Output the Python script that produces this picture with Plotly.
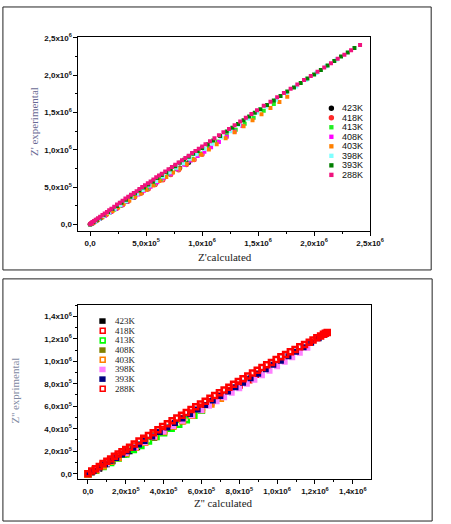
import plotly.graph_objects as go

W, H = 451, 524

# legend order (temperatures)
temps = ["423K", "418K", "413K", "408K", "403K", "398K", "393K", "288K"]

# ---- top panel: Z' calculated vs Z' experimental (values in 1e6 ohm) ----
top_calc_423 = [0.00, 0.02, 0.05, 0.09, 0.13, 0.18, 0.23, 0.28, 0.33, 0.39, 0.45, 0.51, 0.58, 0.65, 0.72, 0.80, 0.88]
top_exp_423 = [0.00, 0.015, 0.045, 0.08, 0.12, 0.165, 0.21, 0.26, 0.305, 0.36, 0.42, 0.475, 0.54, 0.61, 0.675, 0.755, 0.83]

top_calc_418 = [0.00, 0.01, 0.03, 0.06, 0.10, 0.14, 0.19, 0.24, 0.29, 0.34, 0.40, 0.46, 0.52, 0.58, 0.65, 0.72, 0.79, 0.86, 0.93, 1.00]
top_exp_418 = [0.005, 0.01, 0.025, 0.05, 0.09, 0.125, 0.17, 0.215, 0.26, 0.31, 0.365, 0.42, 0.475, 0.53, 0.595, 0.665, 0.73, 0.80, 0.865, 0.935]

top_calc_413 = [0.00, 0.05, 0.10, 0.15, 0.21, 0.27, 0.33, 0.39, 0.45, 0.51, 0.57, 0.63, 0.70, 0.77, 0.84, 0.91, 0.98, 1.06, 1.14, 1.22, 1.30, 1.38, 1.46, 1.55, 1.64]
top_exp_413 = [0.00, 0.045, 0.095, 0.14, 0.195, 0.255, 0.31, 0.37, 0.43, 0.485, 0.545, 0.605, 0.67, 0.74, 0.81, 0.88, 0.95, 1.03, 1.11, 1.19, 1.27, 1.35, 1.43, 1.525, 1.615]

top_calc_408 = [0.00, 0.04, 0.08, 0.13, 0.18, 0.23, 0.28, 0.33, 0.38, 0.43, 0.48, 0.54, 0.60, 0.66, 0.72, 0.78, 0.84, 0.90, 0.96, 1.02, 1.08, 1.15, 1.22, 1.29, 1.36]
top_exp_408 = [0.00, 0.035, 0.07, 0.115, 0.165, 0.21, 0.26, 0.305, 0.355, 0.40, 0.45, 0.505, 0.565, 0.625, 0.68, 0.74, 0.80, 0.855, 0.915, 0.975, 1.035, 1.105, 1.175, 1.245, 1.32]

top_calc_403 = [0.00, 0.03, 0.07, 0.11, 0.15, 0.20, 0.25, 0.30, 0.35, 0.40, 0.45, 0.50, 0.56, 0.62, 0.68, 0.74, 0.80, 0.86, 0.92, 0.99, 1.06, 1.13, 1.21, 1.29, 1.37, 1.45, 1.53, 1.61, 1.69, 1.76]
top_exp_403 = [0.00, 0.025, 0.06, 0.095, 0.135, 0.18, 0.225, 0.275, 0.32, 0.37, 0.415, 0.465, 0.52, 0.58, 0.635, 0.695, 0.75, 0.81, 0.865, 0.935, 1.005, 1.075, 1.155, 1.235, 1.315, 1.395, 1.475, 1.56, 1.64, 1.71]

top_calc_398 = [0.00, 0.04, 0.08, 0.12, 0.17, 0.22, 0.27, 0.32, 0.37, 0.42, 0.47, 0.53, 0.59, 0.65, 0.71, 0.77, 0.83, 0.89, 0.95, 1.02, 1.09, 1.17, 1.25, 1.33, 1.41, 1.49, 1.57, 1.66, 1.75, 1.84, 1.93, 2.02, 2.11, 2.20]
top_exp_398 = [0.00, 0.035, 0.075, 0.115, 0.16, 0.21, 0.26, 0.31, 0.36, 0.41, 0.46, 0.52, 0.58, 0.64, 0.70, 0.76, 0.82, 0.88, 0.94, 1.01, 1.08, 1.165, 1.25, 1.335, 1.415, 1.50, 1.58, 1.67, 1.76, 1.85, 1.94, 2.03, 2.12, 2.21]

top_calc_393 = [0.00, 0.03, 0.06, 0.09, 0.12, 0.16, 0.20, 0.24, 0.28, 0.32, 0.36, 0.40, 0.44, 0.48, 0.52, 0.56, 0.60, 0.64, 0.68, 0.72,
                0.76, 0.80, 0.84, 0.88, 0.92, 0.96, 1.00, 1.05, 1.10, 1.16, 1.22, 1.27, 1.32, 1.37, 1.42, 1.47, 1.52, 1.58, 1.64, 1.70,
                1.76, 1.82, 1.88, 1.94, 2.00, 2.06, 2.12, 2.18, 2.24, 2.30, 2.36]
top_exp_393 = [0.00, 0.03, 0.06, 0.09, 0.125, 0.165, 0.205, 0.245, 0.29, 0.33, 0.37, 0.415, 0.455, 0.495, 0.535, 0.575, 0.62, 0.66, 0.70, 0.74,
               0.78, 0.825, 0.865, 0.905, 0.945, 0.985, 1.025, 1.075, 1.125, 1.185, 1.245, 1.295, 1.345, 1.395, 1.445, 1.495, 1.545, 1.60, 1.66, 1.72,
               1.78, 1.835, 1.895, 1.955, 2.01, 2.07, 2.13, 2.19, 2.25, 2.305, 2.365]

top_calc_288 = [0.00, 0.01, 0.02, 0.035, 0.05, 0.07, 0.09, 0.11, 0.13, 0.15, 0.17, 0.19, 0.215, 0.24, 0.265, 0.29, 0.315, 0.34, 0.365, 0.39,
                0.415, 0.44, 0.465, 0.49, 0.515, 0.54, 0.565, 0.59, 0.615, 0.64, 0.67, 0.70, 0.73, 0.76, 0.79, 0.82, 0.85, 0.88, 0.91, 0.94,
                0.97, 1.00, 1.03, 1.07, 1.11, 1.15, 1.19, 1.24, 1.29, 1.34, 1.39, 1.44, 1.49, 1.55, 1.61, 1.67, 1.73, 1.79, 1.85, 1.91,
                1.97, 2.03, 2.09, 2.15, 2.21, 2.27, 2.33, 2.41]
top_exp_288 = [0.005, 0.015, 0.03, 0.045, 0.06, 0.08, 0.10, 0.125, 0.145, 0.165, 0.19, 0.21, 0.235, 0.265, 0.29, 0.315, 0.345, 0.37, 0.395, 0.42,
               0.445, 0.475, 0.50, 0.525, 0.55, 0.575, 0.60, 0.63, 0.655, 0.68, 0.71, 0.74, 0.77, 0.80, 0.83, 0.86, 0.89, 0.92, 0.955, 0.985,
               1.015, 1.045, 1.075, 1.115, 1.155, 1.195, 1.235, 1.28, 1.33, 1.38, 1.43, 1.48, 1.53, 1.59, 1.645, 1.705, 1.76, 1.82, 1.875, 1.935,
               1.99, 2.045, 2.105, 2.16, 2.22, 2.275, 2.335, 2.405]

# ---- bottom panel: Z'' calculated vs Z'' experimental (values in 1e6 ohm) ----
bot_calc_423 = [0.00, 0.02, 0.04, 0.06, 0.08, 0.10, 0.13, 0.16, 0.19, 0.22, 0.26, 0.30, 0.35, 0.40]
bot_exp_423 = [0.00, 0.01, 0.03, 0.045, 0.065, 0.085, 0.11, 0.14, 0.17, 0.20, 0.235, 0.275, 0.32, 0.37]

bot_calc_418 = [0.00, 0.04, 0.08, 0.12, 0.16, 0.20, 0.25, 0.30, 0.35, 0.40, 0.45, 0.50, 0.55, 0.60, 0.65, 0.70, 0.75, 0.80, 0.85, 0.90]
bot_exp_418 = [0.00, 0.035, 0.075, 0.115, 0.155, 0.195, 0.245, 0.295, 0.345, 0.39, 0.44, 0.49, 0.54, 0.59, 0.64, 0.69, 0.74, 0.79, 0.835, 0.885]

bot_calc_413 = [0.00, 0.04, 0.08, 0.12, 0.16, 0.20, 0.24, 0.28, 0.32, 0.36, 0.40, 0.44, 0.48, 0.52, 0.56, 0.60]
bot_exp_413 = [0.00, 0.03, 0.065, 0.10, 0.14, 0.175, 0.215, 0.25, 0.29, 0.33, 0.365, 0.405, 0.44, 0.48, 0.52, 0.565]

bot_calc_408 = [0.00, 0.04, 0.08, 0.12, 0.16, 0.20, 0.25, 0.30, 0.35, 0.40, 0.45, 0.50]
bot_exp_408 = [0.00, 0.035, 0.07, 0.105, 0.145, 0.18, 0.23, 0.275, 0.325, 0.37, 0.42, 0.465]

bot_calc_403 = [0.00, 0.04, 0.08, 0.12, 0.16, 0.20, 0.25, 0.30, 0.35, 0.40, 0.45, 0.50, 0.55, 0.60, 0.65, 0.70]
bot_exp_403 = [0.00, 0.035, 0.07, 0.11, 0.145, 0.185, 0.235, 0.28, 0.33, 0.375, 0.425, 0.47, 0.52, 0.57, 0.62, 0.67]

bot_calc_398 = [0.00, 0.05, 0.10, 0.15, 0.20, 0.25, 0.30, 0.35, 0.40, 0.45, 0.50, 0.55, 0.60, 0.64, 0.68, 0.72, 0.76, 0.80, 0.84, 0.88,
                0.92, 0.96, 1.00, 1.04, 1.08, 1.12, 1.16]
bot_exp_398 = [0.00, 0.045, 0.09, 0.14, 0.185, 0.235, 0.28, 0.33, 0.375, 0.425, 0.47, 0.52, 0.565, 0.605, 0.645, 0.68, 0.72, 0.76, 0.80, 0.835,
               0.875, 0.915, 0.955, 0.995, 1.035, 1.075, 1.12]

bot_calc_393 = [0.00, 0.03, 0.06, 0.09, 0.12, 0.15, 0.18, 0.21, 0.24, 0.27, 0.30, 0.34, 0.38, 0.42, 0.46, 0.50, 0.54, 0.58, 0.62, 0.66,
                0.70, 0.74, 0.78, 0.82, 0.86, 0.90, 0.94, 0.98, 1.02, 1.06, 1.10, 1.14, 1.18, 1.22, 1.25]
bot_exp_393 = [0.00, 0.025, 0.055, 0.085, 0.115, 0.14, 0.17, 0.20, 0.23, 0.26, 0.29, 0.33, 0.37, 0.41, 0.45, 0.49, 0.53, 0.57, 0.61, 0.65,
               0.69, 0.73, 0.77, 0.81, 0.85, 0.89, 0.93, 0.97, 1.005, 1.045, 1.085, 1.125, 1.165, 1.205, 1.235]

bot_calc_288 = [0.00, 0.02, 0.04, 0.06, 0.08, 0.10, 0.12, 0.14, 0.16, 0.18, 0.20, 0.22, 0.245, 0.27, 0.295, 0.32, 0.345, 0.37, 0.395, 0.42,
                0.445, 0.47, 0.495, 0.52, 0.545, 0.57, 0.595, 0.62, 0.645, 0.67, 0.695, 0.72, 0.745, 0.77, 0.795, 0.82, 0.845, 0.87, 0.895, 0.92,
                0.945, 0.97, 0.995, 1.02, 1.045, 1.07, 1.095, 1.12, 1.145, 1.17, 1.19, 1.21, 1.23, 1.245, 1.255, 1.265]
bot_exp_288 = [0.00, 0.025, 0.045, 0.065, 0.09, 0.11, 0.13, 0.155, 0.175, 0.195, 0.215, 0.235, 0.265, 0.29, 0.315, 0.34, 0.365, 0.39, 0.42, 0.445,
               0.47, 0.495, 0.52, 0.545, 0.57, 0.595, 0.62, 0.645, 0.67, 0.695, 0.72, 0.745, 0.77, 0.795, 0.82, 0.845, 0.87, 0.895, 0.92, 0.945,
               0.97, 0.99, 1.015, 1.04, 1.06, 1.085, 1.105, 1.13, 1.15, 1.17, 1.19, 1.21, 1.225, 1.24, 1.25, 1.255]

# tick labels
top_ticks = [0, 0.5e6, 1.0e6, 1.5e6, 2.0e6, 2.5e6]
top_ticktext = ["0,0", "5,0x10<sup>5</sup>", "1,0x10<sup>6</sup>", "1,5x10<sup>6</sup>", "2,0x10<sup>6</sup>", "2,5x10<sup>6</sup>"]
bot_ticks = [0, 0.2e6, 0.4e6, 0.6e6, 0.8e6, 1.0e6, 1.2e6, 1.4e6]
bot_ticktext = ["0,0", "2,0x10<sup>5</sup>", "4,0x10<sup>5</sup>", "6,0x10<sup>5</sup>", "8,0x10<sup>5</sup>",
                "1,0x10<sup>6</sup>", "1,2x10<sup>6</sup>", "1,4x10<sup>6</sup>"]

top_data = [(top_calc_423, top_exp_423), (top_calc_418, top_exp_418), (top_calc_413, top_exp_413),
            (top_calc_408, top_exp_408), (top_calc_403, top_exp_403), (top_calc_398, top_exp_398),
            (top_calc_393, top_exp_393), (top_calc_288, top_exp_288)]
bot_data = [(bot_calc_423, bot_exp_423), (bot_calc_418, bot_exp_418), (bot_calc_413, bot_exp_413),
            (bot_calc_408, bot_exp_408), (bot_calc_403, bot_exp_403), (bot_calc_398, bot_exp_398),
            (bot_calc_393, bot_exp_393), (bot_calc_288, bot_exp_288)]

# styles
top_colors = ["#000000", "#ff2a2a", "#22ee22", "#ff00ff", "#ff8000", "#80ffff", "#007f00", "#f0137e"]
top_symbols = ["circle", "circle", "square", "square", "square", "square", "square", "square"]
bot_colors = ["#000000", "#ff0000", "#00ff00", "#808000", "#ff8000", "#ff80ff", "#000080", "#ff0000"]
bot_open = [False, True, True, False, True, False, False, True]


def px(x):
    return x / W


def py(y):
    return 1 - y / H


fig = go.Figure()

for name, (xs, ys), color, sym in zip(temps, top_data, top_colors, top_symbols):
    marker = dict(color=color, symbol=sym, size=5 if sym == "circle" else 4, line=dict(width=0))
    if sym == "circle":
        marker["gradient"] = dict(type="radial", color="#bbbbbb" if color == "#000000" else "#ffaaaa")
    fig.add_trace(go.Scatter(x=[v * 1e6 for v in xs], y=[v * 1e6 for v in ys], mode="markers",
                             name=name, marker=marker, xaxis="x", yaxis="y", showlegend=False))

for name, (xs, ys), color, is_open in zip(temps, bot_data, bot_colors, bot_open):
    if is_open:
        marker = dict(color=color, symbol="square-open", size=5, line=dict(width=2.5, color=color))
    else:
        marker = dict(color=color, symbol="square", size=6, line=dict(width=0))
    fig.add_trace(go.Scatter(x=[v * 1e6 for v in xs], y=[v * 1e6 for v in ys], mode="markers",
                             name=name, marker=marker, xaxis="x2", yaxis="y2", showlegend=False))

tickfont = dict(family="Liberation Sans, Arial", size=8, color="#111111", weight="bold")
axis_common = dict(showline=True, linecolor="black", linewidth=1, mirror=True, ticks="outside",
                   ticklen=4, tickwidth=1, tickcolor="black", showgrid=False, zeroline=False,
                   tickfont=tickfont, tickmode="array")

fig.update_layout(
    width=W, height=H,
    margin=dict(l=0, r=0, t=0, b=0),
    paper_bgcolor="white", plot_bgcolor="white",
    xaxis=dict(axis_common, domain=[px(81), px(382)], anchor="y", range=[-0.104e6, 2.5e6],
               tickvals=top_ticks, ticktext=top_ticktext,
               minor=dict(ticks="outside", ticklen=2, dtick=0.25e6, tick0=0, tickcolor="black")),
    yaxis=dict(axis_common, domain=[py(229), py(33)], anchor="x", range=[-0.093e6, 2.516e6],
               tickvals=top_ticks, ticktext=top_ticktext,
               minor=dict(ticks="outside", ticklen=2, dtick=0.25e6, tick0=0, tickcolor="black")),
    xaxis2=dict(axis_common, domain=[px(81), px(383)], anchor="y2", range=[-0.05e6, 1.497e6],
                tickvals=bot_ticks, ticktext=bot_ticktext,
                minor=dict(ticks="outside", ticklen=2, dtick=0.1e6, tick0=0, tickcolor="black")),
    yaxis2=dict(axis_common, domain=[py(479), py(303)], anchor="x2", range=[-0.05e6, 1.503e6],
                tickvals=bot_ticks, ticktext=bot_ticktext,
                minor=dict(ticks="outside", ticklen=2, dtick=0.1e6, tick0=0, tickcolor="black")),
)

shapes = [
    # panel frames
    dict(type="rect", xref="paper", yref="paper", x0=px(3), x1=px(445), y0=py(268), y1=py(3),
         line=dict(color="#222222", width=1)),
    dict(type="rect", xref="paper", yref="paper", x0=px(3), x1=px(446), y0=py(521), y1=py(277),
         line=dict(color="#222222", width=1)),
]
annotations = []

# axis titles (anchors given explicitly, "auto" shifts paper annotations)
serif = "Liberation Serif, Times New Roman"
title_kw = dict(xref="paper", yref="paper", showarrow=False, xanchor="center", yanchor="middle")
annotations += [
    dict(title_kw, text="Z'calculated", x=px(232), y=py(255),
         font=dict(family=serif, size=11, color="#222222")),
    dict(title_kw, text="Z' experimental", x=px(35), y=py(118), textangle=-90,
         font=dict(family=serif, size=11, color="#6a6a94")),
    dict(title_kw, text="Z'' calculated", x=px(231), y=py(503),
         font=dict(family=serif, size=11, color="#222222")),
    dict(title_kw, text="Z'' exprimental", x=px(15), y=py(390), textangle=-90,
         font=dict(family=serif, size=11, color="#7f8aa3")),
]

# hand-placed legends (compact row spacing like the original)
for i, (name, color, sym) in enumerate(zip(temps, top_colors, top_symbols)):
    yc = 105 + i * 9.6
    r = 2.8 if sym == "circle" else 2.2
    shapes.append(dict(type="circle" if sym == "circle" else "rect", xref="paper", yref="paper",
                       x0=px(342 - r), x1=px(342 + r), y0=py(yc + r), y1=py(yc - r),
                       fillcolor=color, line=dict(width=0)))
    annotations.append(dict(text=name, x=px(352), y=py(yc), xref="paper", yref="paper", showarrow=False,
                            xanchor="left", yanchor="middle", borderpad=0,
                            font=dict(family="Liberation Sans, Arial", size=9, color="#111111")))

for i, (name, color, is_open) in enumerate(zip(temps, bot_colors, bot_open)):
    yc = 319.5 + i * 9.75
    if is_open:
        shapes.append(dict(type="rect", xref="paper", yref="paper",
                           x0=px(103.5), x1=px(108.5), y0=py(yc + 2.5), y1=py(yc - 2.5),
                           fillcolor="white", line=dict(color=color, width=1.6)))
    else:
        shapes.append(dict(type="rect", xref="paper", yref="paper",
                           x0=px(102.5), x1=px(109), y0=py(yc + 2.8), y1=py(yc - 2.8),
                           fillcolor=color, line=dict(width=0)))
    annotations.append(dict(text=name, x=px(118), y=py(yc), xref="paper", yref="paper", showarrow=False,
                            xanchor="left", yanchor="middle", borderpad=0,
                            font=dict(family=serif, size=9, color="#222222")))

fig.update_layout(shapes=shapes, annotations=annotations)

# the page's default body margin would push the figure off the window
fig.write_html("out.html", config={"displayModeBar": False},
               post_script="document.body.style.margin='0';")
